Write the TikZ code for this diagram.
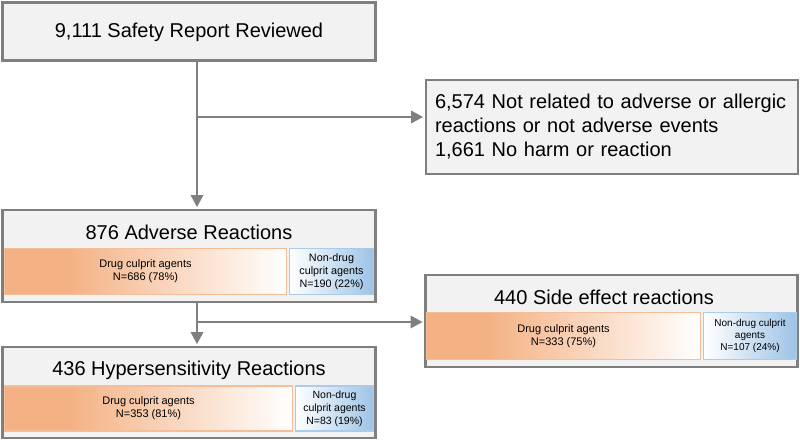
\documentclass[tikz,border=0pt]{standalone}
\usepackage{fontspec}
\setmainfont{Liberation Sans}
\usetikzlibrary{arrows.meta}
\definecolor{boxgray}{RGB}{127,127,127}
\definecolor{boxfill}{RGB}{242,242,242}
\definecolor{drugor}{RGB}{244,177,131}
\definecolor{drugline}{RGB}{246,190,150}
\definecolor{nonblue}{RGB}{157,195,230}
\definecolor{nonline}{RGB}{170,203,234}
\pgfdeclarehorizontalshading{drugshade}{100bp}{color(0bp)=(drugor); color(25bp)=(drugor); color(36bp)=(drugor); color(75bp)=(white); color(100bp)=(white)}
\pgfdeclarehorizontalshading{nonshade}{100bp}{color(0bp)=(white); color(25bp)=(white); color(75bp)=(nonblue); color(100bp)=(nonblue)}
\tikzset{
  outerbox/.style={draw=boxgray, fill=boxfill, line width=2.6pt, rectangle, inner sep=0pt},
  titletext/.style={font=\fontsize{20}{24}\selectfont, inner sep=0pt},
  drugbox/.style={draw=drugline, line width=1.4pt, shading=drugshade, rectangle, inner sep=0pt, align=center, font=\fontsize{11}{13}\selectfont},
  nonbox/.style={draw=nonline, line width=1.4pt, shading=nonshade, rectangle, inner sep=0pt, align=center},
  conn/.style={draw=boxgray, line width=2.8pt},
  arr/.style={conn, -{Triangle[width=12pt,length=12pt]}, shorten >=1.5pt}
}
\begin{document}
\begin{tikzpicture}[x=1pt,y=-1pt]
\useasboundingbox (0,0) rectangle (800,440);
% top box
\node[outerbox, minimum width=373pt, minimum height=58pt] (b1) at (189,31.5) {};
\node[titletext] (t1) at (189,32) {9,111 Safety Report Reviewed};
% exclusion box
\node[outerbox, text width=354pt, inner xsep=9pt, minimum height=94pt, align=left, font=\fontsize{20}{24}\selectfont] (excl) at (612,127)
  {6,574 Not related to adverse or allergic\\reactions or not adverse events\\1,661 No harm or reaction};
% adverse reactions
\node[outerbox, minimum width=373pt, minimum height=92pt] (b876) at (189,256) {};
\node[titletext] (t876) at (189,232) {876 Adverse Reactions};
\node[drugbox, minimum width=282pt, minimum height=46pt] (d876) at (145.5,271.5) {Drug culprit agents\\N=686 (78\%)};
\node[nonbox, minimum width=84pt, minimum height=46pt, font=\fontsize{10.8}{13}\selectfont] (n876) at (331.5,271.5) {Non-drug\\culprit agents\\N=190 (22\%)};
% side effect
\node[outerbox, minimum width=372pt, minimum height=92pt] (b440) at (611.5,321) {};
\node[titletext] (t440) at (604,297) {440 Side effect reactions};
\node[drugbox, minimum width=274pt, minimum height=47pt] (d440) at (563.5,336) {Drug culprit agents\\N=333 (75\%)};
\node[nonbox, minimum width=93pt, minimum height=47pt, font=\fontsize{10}{12}\selectfont] (n440) at (750,336) {Non-drug culprit\\agents\\N=107 (24\%)};
% hypersensitivity
\node[outerbox, minimum width=373pt, minimum height=91pt] (b436) at (189,392.5) {};
\node[titletext] (t436) at (189,370) {436 Hypersensitivity Reactions};
\node[drugbox, minimum width=288pt, minimum height=45pt] (d436) at (148.5,408.5) {Drug culprit agents\\N=353 (81\%)};
\node[nonbox, minimum width=78pt, minimum height=45pt, font=\fontsize{10.5}{13}\selectfont] (n436) at (334.5,408.5) {Non-drug\\culprit agents\\N=83 (19\%)};
% connectors
\coordinate (j1) at (197,117);
\coordinate (j2) at (197,322);
\draw[arr] (b1.south -| j1) -- (b876.north -| j1);
\draw[arr] (j1) -- (excl.west |- j1);
\draw[arr] (b876.south -| j2) -- (b436.north -| j2);
\draw[arr] (j2) -- (b440.west |- j2);
\end{tikzpicture}
\end{document}
